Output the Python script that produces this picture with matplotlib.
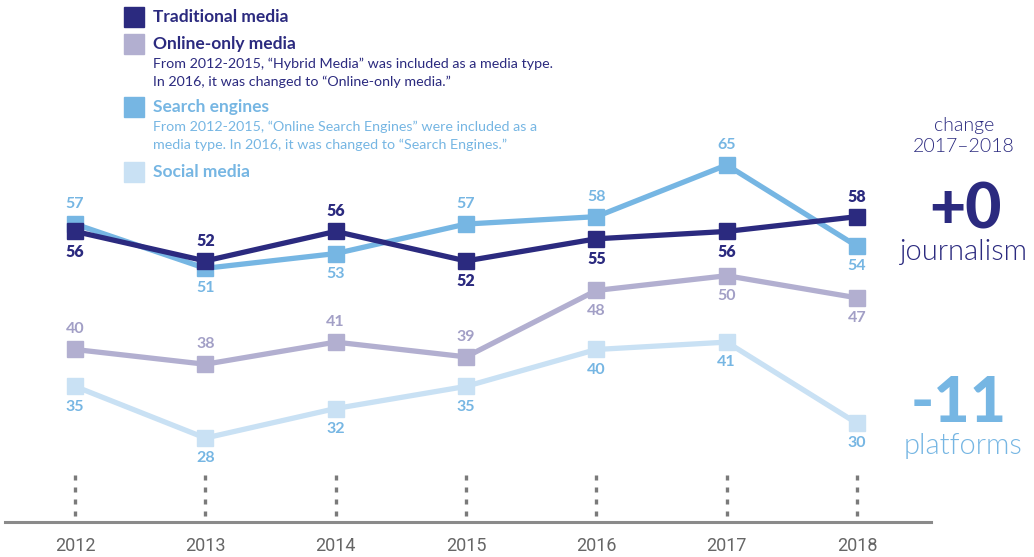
import numpy as np
import matplotlib.pyplot as plt
import matplotlib.transforms as mtransforms

plt.rcParams['font.family'] = ['Lato', 'DejaVu Sans']

years = [2012, 2013, 2014, 2015, 2016, 2017, 2018]
traditional = [56, 52, 56, 52, 55, 56, 58]
online_only = [40, 38, 41, 39, 48, 50, 47]
search = [57, 51, 53, 57, 58, 65, 54]
social = [35, 28, 32, 35, 40, 41, 30]

# label side: +1 above, -1 below
trad_side = [-1, 1, 1, -1, -1, -1, 1]
online_side = [1, 1, 1, 1, -1, -1, -1]
search_side = [1, -1, -1, 1, 1, 1, -1]
social_side = [-1, -1, -1, -1, -1, -1, -1]

NAVY = '#2B2A7F'
LAV = '#B2AFD0'
LAVTXT = '#A29FC6'
BLUE = '#76B6E3'
PALE = '#C9E1F4'

fig = plt.figure(figsize=(10.34, 5.57), dpi=100)
ax = fig.add_axes([0, 0, 1, 1])
ax.set_xlim(2011.4245, 2019.358)
ax.set_ylim(11.88, 87.36)
ax.axis('off')

series = [
    (social, PALE, BLUE, social_side, 'bold'),
    (online_only, LAV, LAVTXT, online_side, 'bold'),
    (search, BLUE, BLUE, search_side, 'bold'),
    (traditional, NAVY, NAVY, trad_side, 'heavy'),
]
for vals, col, tcol, side, fw in series:
    ax.plot(years, vals, color=col, lw=3.8, marker='s', ms=11,
            solid_joinstyle='miter', zorder=3)
    for x, v, s in zip(years, vals, side):
        ax.annotate(str(v), (x, v), xytext=(0, 14.5 * s), textcoords='offset points',
                    ha='center', va='center', fontsize=11.5, fontweight=fw,
                    color=tcol, zorder=4)

# dotted guides and baseline
for x in years:
    ax.axvline(x, ymin=0.073, ymax=0.148, color='#7a7a7a', lw=2.4,
               linestyle=(0, (1.5, 2.1)), zorder=1)
ax.add_line(plt.Line2D([0.005, 0.9], [0.063, 0.063], transform=fig.transFigure,
                       color='#8a8a8a', lw=2.2))
trans = mtransforms.blended_transform_factory(ax.transData, fig.transFigure)
for x in years:
    ax.text(x, 0.02, str(x), transform=trans, ha='center', va='center',
            fontsize=13, color='#666666', family=['Roboto', 'DejaVu Sans'],
            stretch='condensed')

# legend
def fx(px):
    return px / 1034

def fy(py):
    return 1 - py / 557

legend_items = [
    (17, NAVY, 'Traditional media', NAVY, []),
    (44, LAV, 'Online-only media', NAVY,
     ['From 2012-2015, \u201cHybrid Media\u201d was included as a media type.',
      'In 2016, it was changed to \u201cOnline-only media.\u201d']),
    (107, BLUE, 'Search engines', BLUE,
     ['From 2012-2015, \u201cOnline Search Engines\u201d were included as a',
      'media type. In 2016, it was changed to \u201cSearch Engines.\u201d']),
    (172, PALE, 'Social media', BLUE, []),
]
for py, col, title, tcol, notes in legend_items:
    fig.patches.append(plt.Rectangle((fx(124), fy(py + 10)), 20 / 1034, 20 / 557,
                                     transform=fig.transFigure, color=col))
    fig.text(fx(153), fy(py), title, ha='left', va='center', fontsize=12.5,
             fontweight='bold', color=tcol)
    for i, line in enumerate(notes):
        fig.text(fx(153), fy(py + 20 + 18 * i), line, ha='left', va='center',
                 fontsize=10.3, color=tcol)

# right side annotation
fig.text(fx(964), fy(125), 'change', ha='center', va='center', fontsize=14,
         fontweight=300, color=NAVY)
fig.text(fx(964), fy(147), '2017\u20132018', ha='center', va='center', fontsize=14,
         fontweight=300, color=NAVY)
fig.text(fx(965), fy(210), '+0', ha='center', va='center', fontsize=45,
         fontweight='black', color=NAVY)
fig.text(fx(963), fy(252), 'journalism', ha='center', va='center', fontsize=21,
         fontweight=300, color=NAVY)
fig.text(fx(959), fy(404), '-11', ha='center', va='center', fontsize=45,
         fontweight='black', color=BLUE)
fig.text(fx(963), fy(446), 'platforms', ha='center', va='center', fontsize=21,
         fontweight=300, color=BLUE)

fig.savefig('out.png', dpi=100)
